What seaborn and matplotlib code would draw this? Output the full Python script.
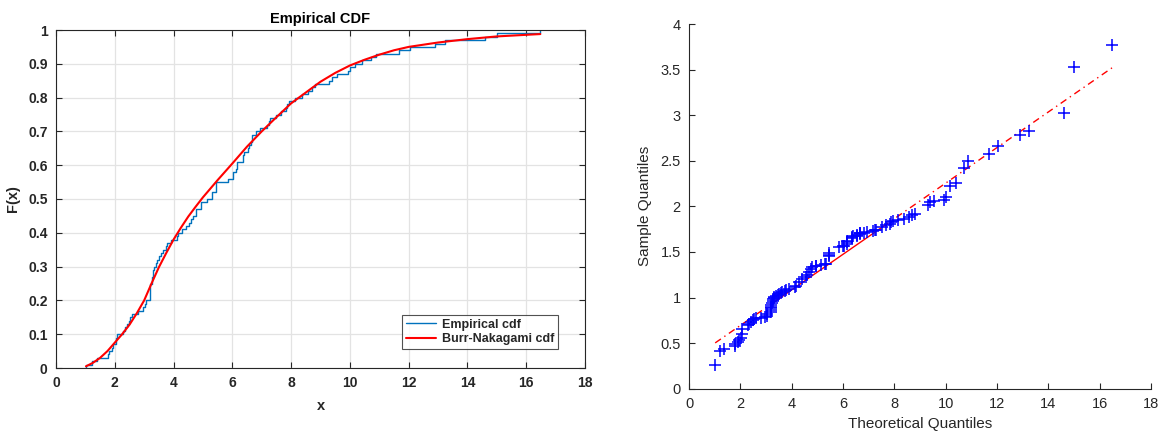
import numpy as np
import pandas as pd
import matplotlib
matplotlib.use("Agg")
import matplotlib.pyplot as plt
import seaborn as sns

# ---- data ----
data_x = [1.02, 1.21, 1.38, 1.78, 1.80, 1.89, 1.95, 2.04, 2.05, 2.06,
          2.29, 2.35, 2.43, 2.50, 2.52, 2.60, 2.80, 2.97, 3.03, 3.05,
          3.20, 3.20, 3.20, 3.20, 3.20, 3.25, 3.27, 3.29, 3.30, 3.33,
          3.39, 3.45, 3.52, 3.58, 3.63, 3.74, 3.76, 3.91, 4.12, 4.15,
          4.29, 4.42, 4.54, 4.60, 4.67, 4.76, 4.78, 4.93, 4.95, 5.15,
          5.30, 5.32, 5.46, 5.46, 5.46, 5.84, 6.01, 6.03, 6.14, 6.15,
          6.17, 6.35, 6.36, 6.40, 6.54, 6.56, 6.65, 6.66, 6.68, 6.80,
          6.94, 7.17, 7.26, 7.28, 7.50, 7.67, 7.84, 7.86, 7.93, 8.13,
          8.36, 8.58, 8.70, 8.81, 9.30, 9.38, 9.55, 9.94, 10.02, 10.17,
          10.40, 10.71, 10.88, 11.67, 12.04, 12.89, 13.23, 14.60, 14.99, 16.48]

sample_q = [0.26, 0.41, 0.44, 0.47, 0.49, 0.51, 0.53, 0.56, 0.60, 0.66,
            0.70, 0.71, 0.73, 0.75, 0.76, 0.77, 0.78, 0.79, 0.80, 0.82,
            0.84, 0.86, 0.88, 0.90, 0.92, 0.94, 0.96, 0.98, 0.99, 1.01,
            1.02, 1.03, 1.04, 1.05, 1.06, 1.07, 1.08, 1.09, 1.12, 1.13,
            1.17, 1.20, 1.22, 1.25, 1.28, 1.31, 1.33, 1.35, 1.35, 1.36,
            1.37, 1.37, 1.45, 1.47, 1.49, 1.55, 1.56, 1.57, 1.59, 1.61,
            1.62, 1.65, 1.66, 1.67, 1.68, 1.69, 1.70, 1.71, 1.71, 1.71,
            1.72, 1.73, 1.74, 1.74, 1.77, 1.79, 1.81, 1.83, 1.84, 1.85,
            1.86, 1.88, 1.90, 1.92, 2.02, 2.05, 2.06, 2.07, 2.10, 2.22,
            2.26, 2.42, 2.50, 2.57, 2.66, 2.78, 2.83, 3.02, 3.53, 3.77]

cdf_x = [1.02, 1.25, 1.5, 1.75, 2.0, 2.25, 2.5, 2.75, 3.0, 3.25, 3.5, 3.75,
         4.0, 4.25, 4.5, 4.75, 5.0, 5.5, 6.0, 6.5, 7.0, 7.5, 8.0, 8.5, 9.0,
         9.5, 10.0, 10.5, 11.0, 11.5, 12.0, 13.0, 14.0, 15.0, 16.48]
cdf_F = [0.005, 0.015, 0.03, 0.05, 0.075, 0.10, 0.128, 0.162, 0.20, 0.25,
         0.298, 0.34, 0.38, 0.415, 0.448, 0.477, 0.505, 0.556, 0.605, 0.655,
         0.70, 0.742, 0.783, 0.815, 0.847, 0.873, 0.895, 0.912, 0.927, 0.94,
         0.95, 0.963, 0.973, 0.981, 0.988]

x_ticks = list(range(0, 19, 2))
ecdf_y_ticks = [0, 0.1, 0.2, 0.3, 0.4, 0.5, 0.6, 0.7, 0.8, 0.9, 1]
ecdf_y_labels = ["0", "0.1", "0.2", "0.3", "0.4", "0.5", "0.6", "0.7", "0.8", "0.9", "1"]
qq_y_ticks = [0, 0.5, 1, 1.5, 2, 2.5, 3, 3.5, 4]
qq_y_labels = ["0", "0.5", "1", "1.5", "2", "2.5", "3", "3.5", "4"]

# ---- style ----
sns.set_style("ticks")
plt.rcParams['font.family'] = ['Liberation Sans', 'DejaVu Sans']
AX_COL = '#262626'

fig = plt.figure(figsize=(11.76, 4.34), dpi=100)
ax1 = fig.add_axes([56/1176, 1-368/434, (585-56)/1176, (368-30)/434])
ax2 = fig.add_axes([689/1176, 1-388.7/434, (1151-689)/1176, (388.7-24)/434])

# ---- left: empirical CDF ----
n = len(data_x)
xs = np.sort(np.array(data_x))
df_ecdf = pd.DataFrame({'x': np.r_[xs[0], xs], 'F': np.arange(0, n + 1) / n})
sns.lineplot(data=df_ecdf, x='x', y='F', ax=ax1, estimator=None, sort=False,
             drawstyle='steps-post', color='#0072BD', linewidth=1.0,
             label='Empirical cdf')
df_cdf = pd.DataFrame({'x': cdf_x, 'F': cdf_F})
sns.lineplot(data=df_cdf, x='x', y='F', ax=ax1, estimator=None, sort=False,
             color='red', linewidth=1.5, label='Burr-Nakagami cdf')

ax1.set_xlim(0, 18)
ax1.set_ylim(0, 1)
ax1.set_xticks(x_ticks)
ax1.set_xticklabels([str(t) for t in x_ticks])
ax1.set_yticks(ecdf_y_ticks)
ax1.set_yticklabels(ecdf_y_labels)
ax1.grid(True, color='#e3e3e3', linewidth=0.9)
ax1.set_axisbelow(True)
ax1.tick_params(direction='in', top=True, right=True, length=4, width=0.8,
                colors=AX_COL, labelsize=10, pad=6)
for lbl in ax1.get_xticklabels() + ax1.get_yticklabels():
    lbl.set_fontweight('bold')
for sp in ax1.spines.values():
    sp.set_visible(True)
    sp.set_color(AX_COL)
    sp.set_linewidth(0.8)
ax1.set_title('Empirical CDF', fontweight='bold', fontsize=10.5, color='black', pad=5)
ax1.set_xlabel('x', fontweight='bold', fontsize=10.5, color=AX_COL, labelpad=6)
ax1.set_ylabel('F(x)', fontweight='bold', fontsize=10.5, color=AX_COL, labelpad=6)
leg = ax1.legend(loc='lower right', bbox_to_anchor=(0.949, 0.056), borderaxespad=0,
                 fancybox=False, frameon=True, edgecolor=AX_COL,
                 prop={'weight': 'bold', 'size': 9}, handlelength=2.4,
                 borderpad=0.3, labelspacing=0.2, handletextpad=0.5)
leg.get_frame().set_linewidth(0.8)

# ---- right: QQ plot ----
qx = np.array(data_x)
qy = np.array(sample_q)
df_qq = pd.DataFrame({'t': qx, 's': qy})
q1x, q3x = np.percentile(qx, [25, 75])
q1y, q3y = np.percentile(qy, [25, 75])
slope = (q3y - q1y) / (q3x - q1x)
icpt = q1y - slope * q1x
xmin, xmax = qx.min(), qx.max()
df_solid = pd.DataFrame({'t': [q1x, q3x], 's': [icpt + slope * q1x, icpt + slope * q3x]})
df_lo = pd.DataFrame({'t': [xmin, q1x], 's': [icpt + slope * xmin, icpt + slope * q1x]})
df_hi = pd.DataFrame({'t': [q3x, xmax], 's': [icpt + slope * q3x, icpt + slope * xmax]})
for d, ls in [(df_lo, (0, (5, 3, 1, 3))), (df_hi, (0, (5, 3, 1, 3))), (df_solid, '-')]:
    sns.lineplot(data=d, x='t', y='s', ax=ax2, estimator=None, sort=False,
                 color='red', linewidth=1.0, linestyle=ls)
sns.scatterplot(data=df_qq, x='t', y='s', ax=ax2, marker='+', s=65,
                color='blue', linewidth=1.1, zorder=3)

ax2.set_xlim(0, 18)
ax2.set_ylim(0, 4)
ax2.set_xticks(x_ticks)
ax2.set_xticklabels([str(t) for t in x_ticks])
ax2.set_yticks(qq_y_ticks)
ax2.set_yticklabels(qq_y_labels)
ax2.tick_params(direction='in', length=4, width=0.8, colors=AX_COL, labelsize=10.5, pad=6)
for side in ['top', 'right']:
    ax2.spines[side].set_visible(False)
for side in ['left', 'bottom']:
    ax2.spines[side].set_color(AX_COL)
    ax2.spines[side].set_linewidth(0.8)
ax2.set_xlabel('Theoretical Quantiles', fontsize=11, color=AX_COL, labelpad=4)
ax2.set_ylabel('Sample Quantiles', fontsize=11, color=AX_COL, labelpad=6)

fig.savefig('out.png', dpi=100)
